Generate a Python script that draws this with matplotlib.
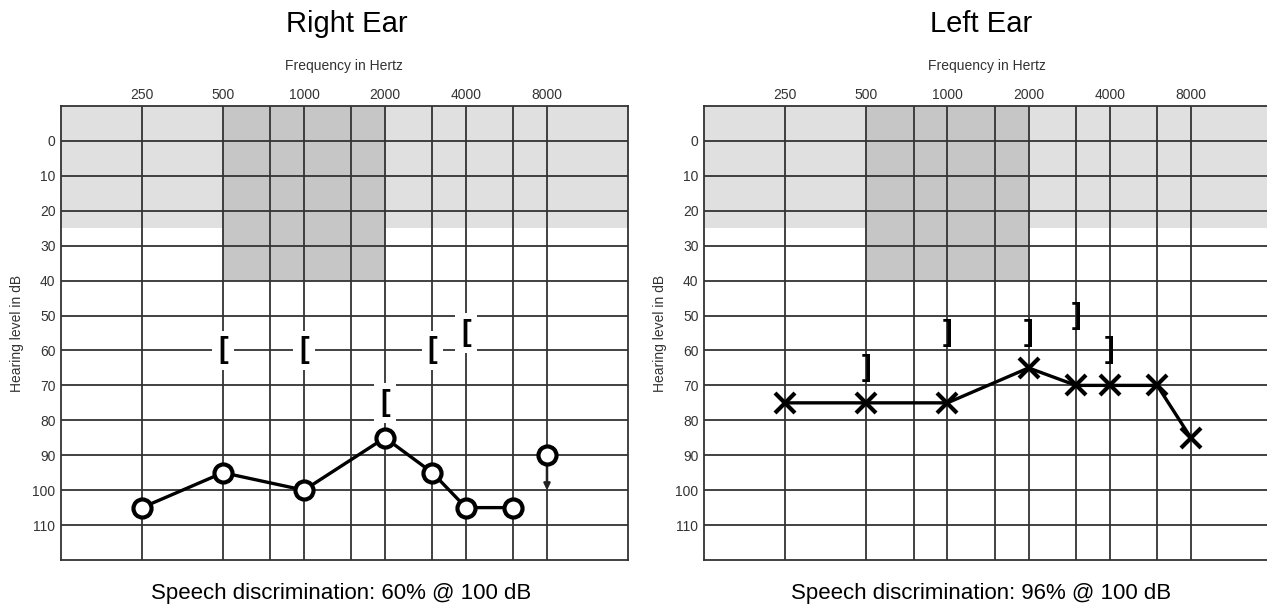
import matplotlib
matplotlib.use('Agg')
import matplotlib.pyplot as plt

plt.rcParams['font.family'] = ['Liberation Sans', 'DejaVu Sans']

# axis values
freq_labels = [250, 500, 1000, 2000, 4000, 8000]
freq_minor = [750, 1500, 3000, 6000]
db_ticks = list(range(0, 120, 10))

# shaded zones
normal_db = 25
speech_band = [500, 2000]
speech_db = 40

# right ear (air conduction 'O', masked bone '[')
right_freq = [250, 500, 1000, 2000, 3000, 4000, 6000]
right_air = [105, 95, 100, 85, 95, 105, 105]
right_nr_freq = [8000]
right_nr_db = [90]
right_bone_freq = [500, 1000, 2000, 3000, 4000]
right_bone = [60, 60, 75, 60, 55]

# left ear (air conduction 'X', masked bone ']')
left_freq = [250, 500, 1000, 2000, 3000, 4000, 6000, 8000]
left_air = [75, 75, 75, 65, 70, 70, 70, 85]
left_bone_freq = [500, 1000, 2000, 3000, 4000]
left_bone = [65, 55, 55, 50, 60]

grid_col = '#333333'
W, H = 1267, 608

fig = plt.figure(figsize=(W / 100, H / 100), dpi=100)
ax_r = fig.add_axes([61 / W, 48 / H, 567 / W, 454 / H])
ax_l = fig.add_axes([704 / W, 48 / H, 568 / W, 454 / H])


def setup(ax):
    ax.set_xscale('log', base=2)
    ax.set_xlim(125, 16000)
    ax.set_ylim(120, -10)
    ax.axhspan(-10, normal_db, color='#e0e0e0', lw=0, zorder=0)
    ax.fill_between(speech_band, -10, speech_db, color='#c6c6c6', lw=0, zorder=0.5)
    ax.set_xticks(freq_labels)
    ax.set_xticklabels([str(f) for f in freq_labels])
    ax.set_xticks(freq_minor, minor=True)
    ax.set_xticklabels([], minor=True)
    ax.set_yticks(db_ticks)
    ax.xaxis.tick_top()
    ax.tick_params(axis='both', which='both', length=0, labelsize=10, colors='#333333')
    ax.tick_params(axis='x', pad=3)
    ax.tick_params(axis='y', pad=4)
    ax.grid(True, which='both', color=grid_col, lw=1.3)
    ax.set_axisbelow(True)
    for s in ax.spines.values():
        s.set_color(grid_col)
        s.set_linewidth(1.3)
    ax.set_ylabel('Hearing level in dB', fontsize=10, color='#333333', labelpad=6)


setup(ax_r)
setup(ax_l)

# right ear
ax_r.plot(right_freq, right_air, color='black', lw=2.4, marker='o', ms=13,
          mfc='white', mec='black', mew=3, zorder=5)
ax_r.plot(right_nr_freq, right_nr_db, ls='none', marker='o', ms=13,
          mfc='white', mec='black', mew=3, zorder=5)
for f, d in zip(right_nr_freq, right_nr_db):
    ax_r.annotate('', xy=(f, d + 10), xytext=(f, d + 2),
                  arrowprops=dict(arrowstyle='-|>', lw=1.8, color='#222222',
                                  mutation_scale=9, shrinkA=0, shrinkB=0), zorder=4)
for f, d in zip(right_bone_freq, right_bone):
    ax_r.text(f, d, '[', ha='center', va='center', fontsize=21, fontweight='bold',
              family='Liberation Sans', zorder=6,
              bbox=dict(boxstyle='square,pad=0.2', fc='white', ec='none'))

# left ear
ax_l.plot(left_freq, left_air, color='black', lw=2.4, marker='x', ms=15,
          mec='black', mew=3, zorder=5)
for f, d in zip(left_bone_freq, left_bone):
    ax_l.text(f, d, ']', ha='center', va='center', fontsize=21, fontweight='bold',
              family='Liberation Sans', zorder=6)

# titles and captions
fig.text(347 / W, 1 - 24 / H, 'Right Ear', ha='center', va='center', fontsize=21)
fig.text(981 / W, 1 - 24 / H, 'Left Ear', ha='center', va='center', fontsize=21)
fig.text(344 / W, 1 - 66 / H, 'Frequency in Hertz', ha='center', va='center',
         fontsize=10, color='#333333')
fig.text(987 / W, 1 - 66 / H, 'Frequency in Hertz', ha='center', va='center',
         fontsize=10, color='#333333')
fig.text(341 / W, 1 - 594 / H, 'Speech discrimination: 60% @ 100 dB', ha='center',
         va='center', fontsize=16)
fig.text(981 / W, 1 - 594 / H, 'Speech discrimination: 96% @ 100 dB', ha='center',
         va='center', fontsize=16)

fig.savefig('out.png', dpi=100)
